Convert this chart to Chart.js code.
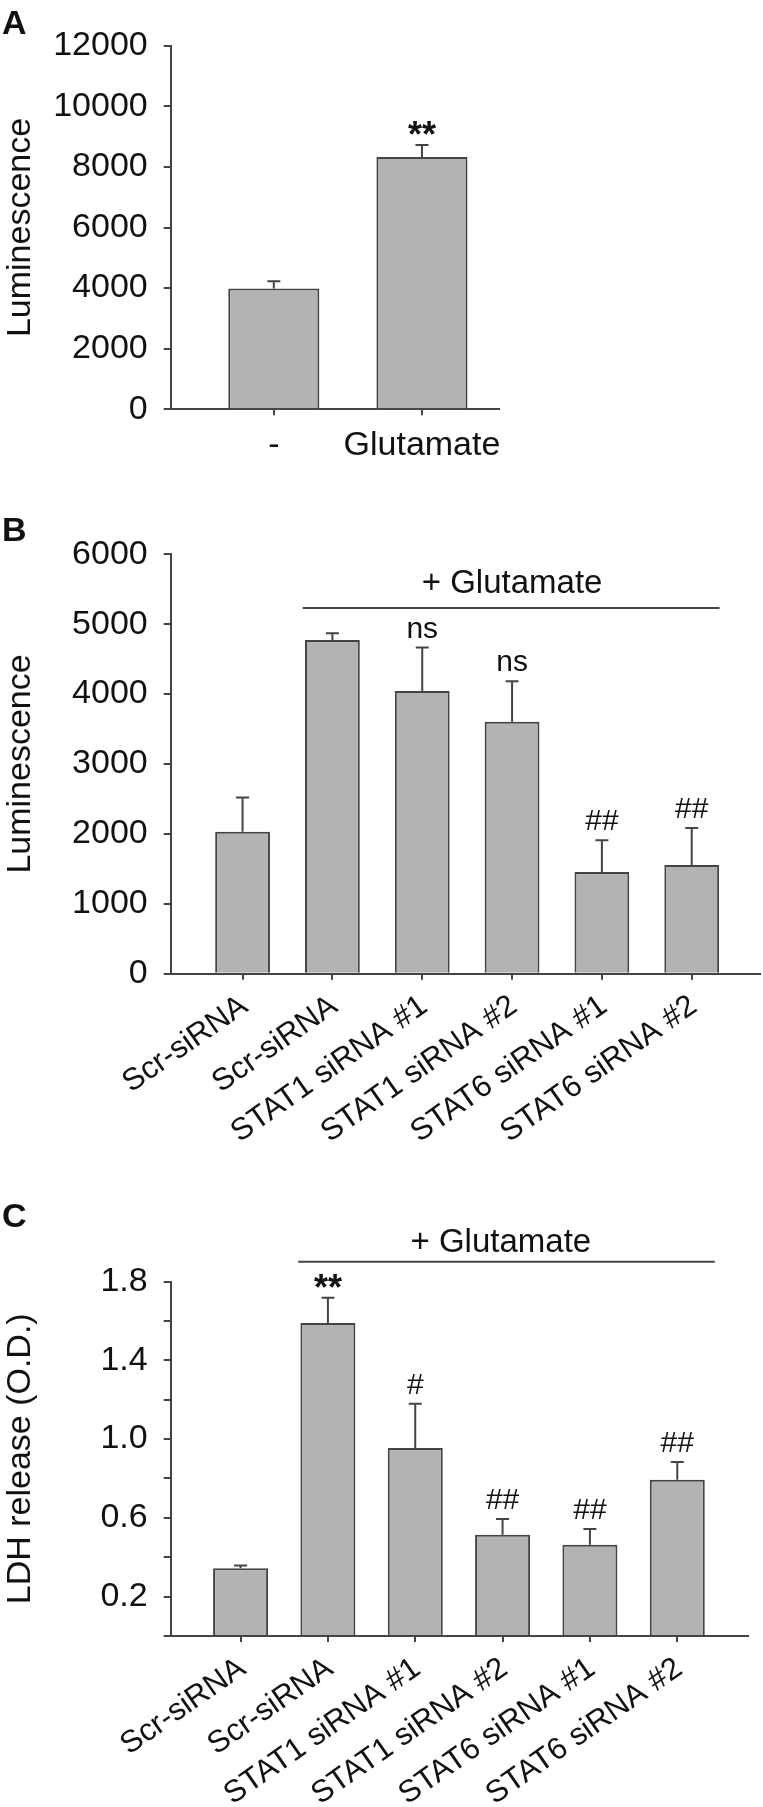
<!DOCTYPE html>
<html>
<head>
<meta charset="utf-8">
<script src="https://cdn.jsdelivr.net/npm/chart.js@4.4.1/dist/chart.umd.min.js"></script>
<style>
html,body{margin:0;padding:0;background:#fff;}
#wrap{position:relative;width:763px;height:1807px;overflow:hidden;background:#fff;}
.cv{position:absolute;left:0;width:763px;}
.cv canvas{display:block;}
.lbl{position:absolute;font-family:'Liberation Sans',Arial,Helvetica,sans-serif;font-weight:bold;font-size:34px;line-height:1;color:#111;}
</style>
</head>
<body>
<div id="wrap">
  <div class="cv" style="top:0px;height:480px"><canvas id="cA" width="763" height="480"></canvas></div>
  <div class="cv" style="top:480px;height:690px"><canvas id="cB" width="763" height="690"></canvas></div>
  <div class="cv" style="top:1170px;height:637px"><canvas id="cC" width="763" height="637"></canvas></div>
  <div class="lbl" style="left:2px;top:5px">A</div>
  <div class="lbl" style="left:2px;top:512px">B</div>
  <div class="lbl" style="left:2px;top:1198px">C</div>
</div>
<script>
// ---------------- data ----------------
const categoriesA = ['-', 'Glutamate'];
const valuesA     = [3990, 8330];
const errorsA     = [235, 390];
const marksA      = ['', '**'];
const yTicksA     = [0, 2000, 4000, 6000, 8000, 10000, 12000];

const categoriesBC = ['Scr-siRNA', 'Scr-siRNA', 'STAT1 siRNA #1', 'STAT1 siRNA #2', 'STAT6 siRNA #1', 'STAT6 siRNA #2'];

const valuesB = [2030, 4775, 4045, 3605, 1455, 1555];
const errorsB = [490, 95, 620, 578, 455, 530];
const marksB  = ['', '', 'ns', 'ns', '##', '##'];
const yTicksB = [0, 1000, 2000, 3000, 4000, 5000, 6000];

const valuesC = [0.344, 1.59, 0.955, 0.514, 0.463, 0.794];
const errorsC = [0.014, 0.128, 0.225, 0.08, 0.08, 0.09];
const marksC  = ['', '**', '#', '##', '##', '##'];
const yTicksC = [0, 0.2, 0.4, 0.6, 0.8, 1.0, 1.2, 1.4, 1.6, 1.8];
const yLabelsC = ['', '0.2', '', '0.6', '', '1.0', '', '1.4', '', '1.8'];

const groupLabel = '+ Glutamate';

// ---------------- styling ----------------
const FONT = "'Liberation Sans', Arial, Helvetica, sans-serif";
const AXIS = '#444';
const BAR_FILL = '#b3b3b3';
Chart.defaults.font.family = FONT;
Chart.defaults.color = '#111';

function errorPlugin(errors, marks) {
  return {
    id: 'errbars',
    afterDatasetsDraw(chart) {
      const {ctx} = chart;
      const xs = chart.scales.x, ys = chart.scales.y;
      const ds = chart.data.datasets[0];
      ctx.save();
      ctx.strokeStyle = AXIS;
      ctx.lineWidth = 2;
      ctx.fillStyle = '#111';
      ds.data.forEach((d, i) => {
        const px = xs.getPixelForValue(d.x);
        const y0 = ys.getPixelForValue(d.y);
        const y1 = ys.getPixelForValue(d.y + errors[i]);
        ctx.beginPath();
        ctx.moveTo(px, y0); ctx.lineTo(px, y1);
        ctx.moveTo(px - 6.5, y1); ctx.lineTo(px + 6.5, y1);
        ctx.stroke();
        const m = marks[i];
        if (m) {
          const star = m.indexOf('*') >= 0;
          ctx.font = (star ? 'bold 36px ' : '30px ') + FONT;
          ctx.textAlign = 'center';
          ctx.textBaseline = 'alphabetic';
          const mt = ctx.measureText(m);
          const base = y1 - 10 - mt.actualBoundingBoxDescent;
          ctx.fillText(m, px, base);
        }
      });
      ctx.restore();
    }
  };
}

function groupPlugin(g) {
  return {
    id: 'grp',
    afterDraw(chart) {
      const {ctx} = chart;
      const xs = chart.scales.x;
      ctx.save();
      ctx.strokeStyle = AXIS;
      ctx.lineWidth = 2;
      ctx.beginPath();
      ctx.moveTo(xs.getPixelForValue(g.from), g.lineY);
      ctx.lineTo(xs.getPixelForValue(g.to), g.lineY);
      ctx.stroke();
      ctx.fillStyle = '#111';
      ctx.font = '33px ' + FONT;
      ctx.textAlign = 'center';
      ctx.textBaseline = 'alphabetic';
      ctx.fillText(groupLabel, xs.getPixelForValue(g.center), g.textY);
      ctx.restore();
    }
  };
}

function makeChart(id, c) {
  const canvas = document.getElementById(id);
  const H = canvas.height;
  const plugins = [errorPlugin(c.errors, c.marks)];
  if (c.group) plugins.push(groupPlugin(c.group));
  return new Chart(canvas, {
    type: 'bar',
    data: {
      datasets: [{
        data: c.cats.map((cat, i) => ({x: i + 1, y: c.vals[i]})),
        backgroundColor: BAR_FILL,
        borderColor: AXIS,
        borderWidth: 2,
        borderSkipped: 'start',
        barPercentage: c.barPct,
        categoryPercentage: 1
      }]
    },
    options: {
      responsive: false,
      animation: false,
      devicePixelRatio: 1,
      layout: {padding: {top: c.area.top, left: 0, right: 763 - c.area.right, bottom: 0}},
      plugins: {legend: {display: false}, tooltip: {enabled: false}},
      scales: {
        x: {
          type: 'linear',
          min: c.xMin, max: c.xMax,
          offset: false,
          afterBuildTicks: s => { s.ticks = c.cats.map((cat, i) => ({value: i + 1})); },
          afterFit: s => { s.height = H - c.area.bottom; },
          grid: {display: true, offset: false, drawOnChartArea: false, drawTicks: true, tickLength: 6, color: AXIS, lineWidth: 2},
          border: {display: true, color: AXIS, width: 2},
          ticks: {
            autoSkip: false,
            maxRotation: c.rot, minRotation: c.rot,
            padding: c.xPad,
            labelOffset: c.xOff,
            font: {size: c.xFont},
            color: '#111',
            callback: (v, i) => c.cats[i]
          }
        },
        y: {
          type: 'linear',
          min: c.yTicks[0], max: c.yTicks[c.yTicks.length - 1],
          afterBuildTicks: s => { s.ticks = c.yTicks.map(v => ({value: v})); },
          afterFit: s => { s.width = c.area.left; },
          grid: {display: true, drawOnChartArea: false, drawTicks: true, tickLength: 7, color: AXIS, lineWidth: 2},
          border: {display: true, color: AXIS, width: 2},
          ticks: {
            autoSkip: false,
            padding: 16,
            font: {size: 34},
            color: '#111',
            callback: (v, i) => c.yLabels ? c.yLabels[i] : String(c.yTicks[i])
          },
          title: {display: true, text: c.yTitle, font: {size: 34}, color: '#111', padding: {top: 0, bottom: 0}}
        }
      }
    },
    plugins: plugins
  });
}

makeChart('cA', {
  cats: categoriesA, vals: valuesA, errors: errorsA, marks: marksA,
  yTicks: yTicksA, yTitle: 'Luminescence',
  xMin: 0.304, xMax: 2.52, barPct: 0.615, rot: 0, xPad: 10, xOff: 0, xFont: 34,
  area: {top: 45.7, bottom: 409.3, left: 170.7, right: 499}
});

makeChart('cB', {
  cats: categoriesBC, vals: valuesB, errors: errorsB, marks: marksB,
  yTicks: yTicksB, yTitle: 'Luminescence',
  xMin: 0.2, xMax: 6.76, barPct: 0.61, rot: 35, xPad: 8, xOff: 2, xFont: 31,
  area: {top: 74.3, bottom: 493.7, left: 170.7, right: 760},
  group: {from: 1.67, to: 6.31, center: 4.0, lineY: 128, textY: 113}
});

makeChart('cC', {
  cats: categoriesBC, vals: valuesC, errors: errorsC, marks: marksC,
  yTicks: yTicksC, yLabels: yLabelsC, yTitle: 'LDH release (O.D.)',
  xMin: 0.2, xMax: 6.81, barPct: 0.63, rot: 35, xPad: 8, xOff: 2, xFont: 31,
  area: {top: 111.6, bottom: 466, left: 170.7, right: 748},
  group: {from: 1.66, to: 6.43, center: 3.98, lineY: 91.7, textY: 82}
});
</script>
</body>
</html>
